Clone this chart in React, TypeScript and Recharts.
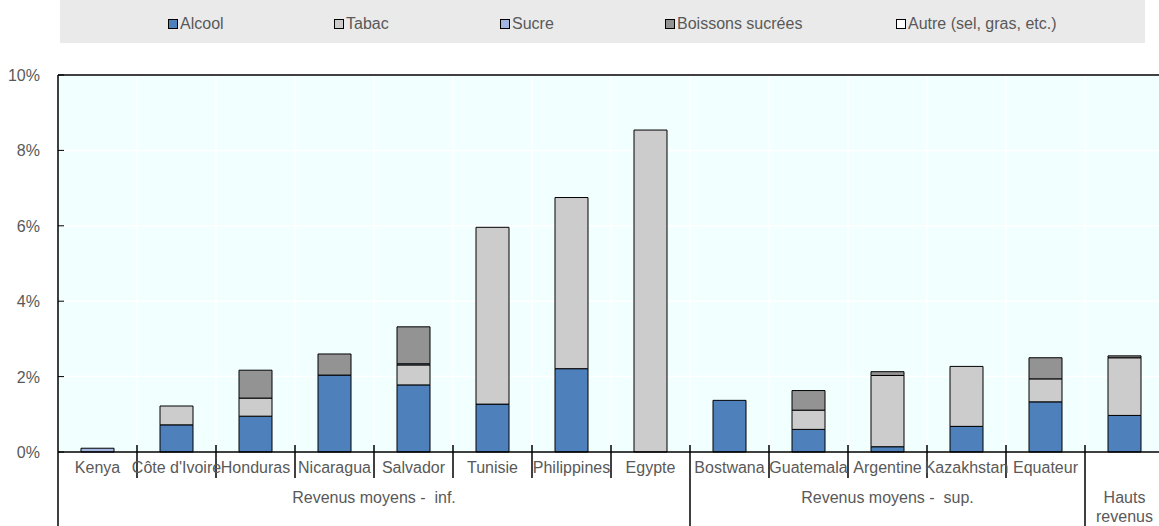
import React from "react";
import { BarChart, Bar, XAxis, YAxis, CartesianGrid, ReferenceLine } from "recharts";

const categories = [
  "Kenya", "Côte d'Ivoire", "Honduras", "Nicaragua", "Salvador", "Tunisie", "Philippines", "Egypte",
  "Bostwana", "Guatemala", "Argentine", "Kazakhstan", "Equateur", "",
];
const alcool = [0, 0.72, 0.95, 2.04, 1.78, 1.27, 2.21, 0, 1.37, 0.6, 0.14, 0.68, 1.33, 0.97];
const tabac = [0, 0.5, 0.48, 0, 0.53, 4.69, 4.54, 8.54, 0, 0.51, 1.89, 1.59, 0.61, 1.53];
const sucre = [0.1, 0, 0, 0, 0.03, 0, 0, 0, 0, 0, 0, 0, 0, 0];
const boissons = [0, 0, 0.74, 0.56, 0.98, 0, 0, 0, 0, 0.52, 0.1, 0, 0.56, 0.05];
const autre = [0, 0, 0, 0, 0, 0, 0, 0, 0, 0, 0, 0, 0, 0];

const groups = [
  { label: ["Revenus moyens -  inf."], count: 8 },
  { label: ["Revenus moyens -  sup."], count: 5 },
  { label: ["Hauts", "revenus"], count: 1 },
];
const yTicks = [0, 2, 4, 6, 8, 10];

const series = [
  { key: "alcool", name: "Alcool", color: "#4E80BC" },
  { key: "tabac", name: "Tabac", color: "#CCCCCC" },
  { key: "sucre", name: "Sucre", color: "#A3B6E3" },
  { key: "boissons", name: "Boissons sucrées", color: "#939393" },
  { key: "autre", name: "Autre (sel, gras, etc.)", color: "#FFFFFF" },
];
const legendLeft = [168, 334, 500, 665, 896];

const data = categories.map((name, i) => ({
  name,
  alcool: alcool[i],
  tabac: tabac[i],
  sucre: sucre[i],
  boissons: boissons[i],
  autre: autre[i],
}));

const CHART_W = 1170;
const CHART_H = 526;
const Y_W = 58;
const X_H = 30;
const M = { top: 75, right: 6, bottom: 74 - X_H, left: 0 };
const BAND = (CHART_W - Y_W - M.right) / categories.length;
const FONT = "'Liberation Sans', Arial, sans-serif";
const TXT = "#595959";

// first index and end index of each group
const groupStart: number[] = [];
const groupEnd: number[] = [];
{
  let s = 0;
  groups.forEach((g) => {
    groupStart.push(s);
    s += g.count;
    groupEnd.push(s - 1);
  });
}

function CategoryTick(props: any) {
  const { x, y, payload } = props;
  const i = payload.index;
  const half = BAND / 2;
  const bottom = CHART_H;
  const gi = groupStart.indexOf(i);
  const isEnd = groupEnd.includes(i);
  return (
    <g>
      {i === 0 && <line x1={x - half} x2={x - half} y1={y} y2={bottom} stroke="#000" strokeWidth={1.5} />}
      <line
        x1={x + half}
        x2={x + half}
        y1={y - 7}
        y2={isEnd ? bottom : y + 26}
        stroke="#000"
        strokeWidth={1.5}
      />
      <text x={x} y={y + 21} textAnchor="middle" fontSize={16} fill={TXT} fontFamily={FONT}>
        {payload.value}
      </text>
      {gi >= 0 &&
        groups[gi].label.map((l, k) => (
          <text
            key={k}
            x={x - half + (groups[gi].count * BAND) / 2}
            y={y + 51 + k * 19}
            textAnchor="middle"
            fontSize={16}
            fill={TXT}
            fontFamily={FONT}
            style={{ whiteSpace: "pre" }}
          >
            {l}
          </text>
        ))}
    </g>
  );
}

function ValueTick(props: any) {
  const { x, y, payload } = props;
  return (
    <g>
      <line x1={x + 18} x2={x + 24} y1={y} y2={y} stroke="#000" strokeWidth={1} />
      <text x={x} y={y + 6} textAnchor="end" fontSize={16} fill={TXT} fontFamily={FONT}>
        {payload.value}%
      </text>
    </g>
  );
}

export default function App() {
  return (
    <div
      style={{
        position: "absolute",
        left: 0,
        top: 0,
        width: 1159,
        height: 526,
        overflow: "hidden",
        background: "#fff",
        fontFamily: FONT,
      }}
    >
      <div
        style={{
          position: "absolute",
          left: 60,
          top: 0,
          width: 1085,
          height: 43,
          background: "#EAEAEA",
        }}
      />
      {series.map((s, i) => (
        <div
          key={s.key}
          style={{
            position: "absolute",
            left: legendLeft[i],
            top: 15,
            display: "flex",
            alignItems: "center",
            fontSize: 16,
            color: TXT,
            whiteSpace: "nowrap",
          }}
        >
          <span
            style={{
              display: "inline-block",
              width: 8,
              height: 8,
              border: "1px solid #000",
              background: s.color,
              marginRight: 2,
            }}
          />
          {s.name}
        </div>
      ))}
      <div style={{ position: "absolute", left: 0, top: 0 }}>
        <BarChart width={CHART_W} height={CHART_H} data={data} margin={M} barSize={33}>
          <CartesianGrid
            fill="#F2FFFF"
            stroke="#FFFFFF"
            strokeWidth={1.5}
            verticalCoordinatesGenerator={({ offset }: any) =>
              categories.map((_, i) => offset.left + (i + 1) * BAND)
            }
          />
          <XAxis
            dataKey="name"
            interval={0}
            height={X_H}
            tickLine={false}
            tickSize={0}
            tickMargin={0}
            axisLine={{ stroke: "#000", strokeWidth: 1.5 }}
            tick={<CategoryTick />}
          />
          <YAxis
            domain={[0, 10]}
            ticks={yTicks}
            interval={0}
            tickLine={false}
            tickSize={0}
            tickMargin={18}
            axisLine={{ stroke: "#000", strokeWidth: 1.5 }}
            tick={<ValueTick />}
            width={Y_W}
          />
          {series.map((s) => (
            <Bar
              key={s.key}
              dataKey={s.key}
              name={s.name}
              stackId="a"
              fill={s.color}
              stroke="#000"
              strokeWidth={1}
              isAnimationActive={false}
            />
          ))}
          <ReferenceLine y={10} stroke="#000" strokeWidth={1.5} />
        </BarChart>
      </div>
    </div>
  );
}
